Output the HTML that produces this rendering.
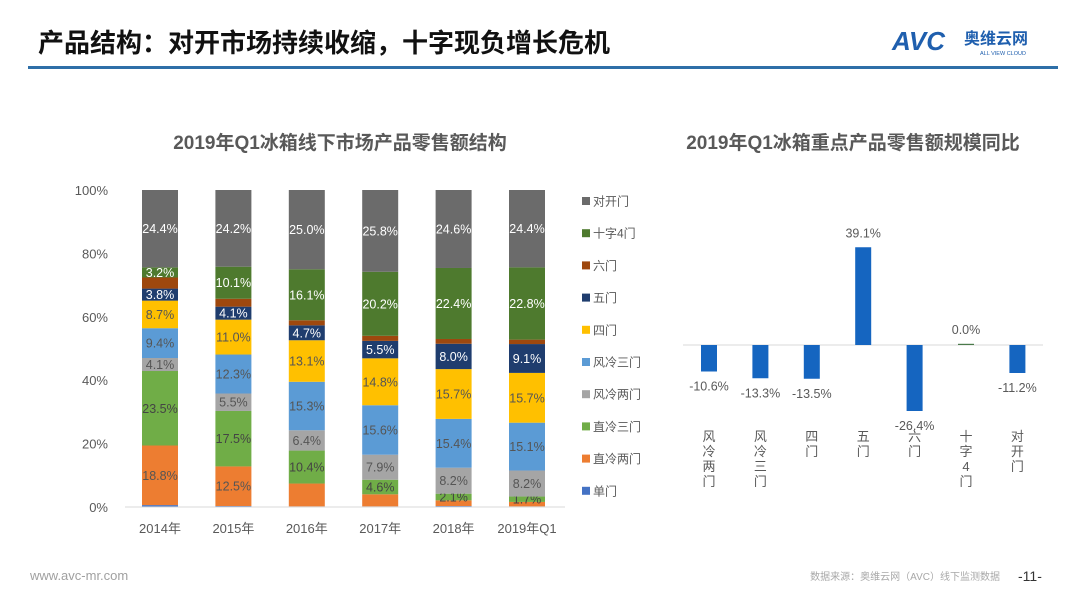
<!DOCTYPE html>
<html><head><meta charset="utf-8"><style>
html,body{margin:0;padding:0;background:#fff;}
body{width:1080px;height:608px;overflow:hidden;position:relative;font-family:"Liberation Sans","Noto Sans CJK SC",sans-serif;}
svg text{font-family:"Liberation Sans","Noto Sans CJK SC",sans-serif;}
</style></head><body>
<svg width="1080" height="608" viewBox="0 0 1080 608">
<text x="38" y="52" font-size="26" font-weight="bold" fill="#111">产品结构：对开市场持续收缩，十字现负增长危机</text>
<rect x="28" y="66" width="1030" height="3" fill="#2e6fa8"/>
<g>
<text x="892" y="50" font-size="26" font-weight="bold" fill="#1f5fae" font-style="italic">AVC</text>
<text x="964" y="44" font-size="16" font-weight="bold" fill="#1f5fae">奥维云网</text>
<text x="980" y="55" font-size="5.5" fill="#1f5fae">ALL VIEW CLOUD</text>
</g>
<text x="340" y="149" text-anchor="middle" font-size="19" font-weight="bold" fill="#595959">2019年Q1冰箱线下市场产品零售额结构</text>
<text x="853" y="149" text-anchor="middle" font-size="19" font-weight="bold" fill="#595959">2019年Q1冰箱重点产品零售额规模同比</text>
<g id="left"></g>
<g id="right"></g>
<text x="30" y="580" font-size="13" fill="#a0a0a0">www.avc-mr.com</text>
<text x="1000" y="580" text-anchor="end" font-size="10" fill="#a8a8a8">数据来源：奥维云网（AVC）线下监测数据</text>
<text x="1018" y="581" font-size="14" fill="#333">-11-</text>
</svg>
<script>
const NS='http://www.w3.org/2000/svg';
function mk(p,t,a){const e=document.createElementNS(NS,t);for(const k in a)e.setAttribute(k,a[k]);p.appendChild(e);return e;}
// left chart data
const years=['2014年','2015年','2016年','2017年','2018年','2019年Q1'];
const seriesNames=['单门','直冷两门','直冷三门','风冷两门','风冷三门','四门','五门','六门','十字4门','对开门'];
const seriesColors=['#4472c4','#ed7d31','#70ad47','#a5a5a5','#5b9bd5','#ffc000','#1f3d6e','#9e480e','#4e7a2e','#6b6b6b'];
const labelColors=['#fff','#555','#444','#555','#555','#555','#fff','#fff','#fff','#fff'];
const s_single=[0.6,0.3,0.2,0.2,0.3,0.2];
const s_zl2=[18.8,12.5,7.2,3.8,1.8,1.4];
const s_zl3=[23.5,17.5,10.4,4.6,2.1,1.7];
const s_fl2=[4.1,5.5,6.4,7.9,8.2,8.2];
const s_fl3=[9.4,12.3,15.3,15.6,15.4,15.1];
const s_4=[8.7,11.0,13.1,14.8,15.7,15.7];
const s_5=[3.8,4.1,4.7,5.5,8.0,9.1];
const s_6=[3.5,2.5,1.6,1.6,1.5,1.4];
const s_cross=[3.2,10.1,16.1,20.2,22.4,22.8];
const s_open=[24.4,24.2,25.0,25.8,24.6,24.4];
const showLabel=[false,[true,true,false,false,false,false],[true,true,true,true,true,true],true,true,true,true,false,true,true];
const yTicks=[0,20,40,60,80,100];
// right chart data
const cats=['风冷两门','风冷三门','四门','五门','六门','十字4门','对开门'];
const yoy=[-10.6,-13.3,-13.5,39.1,-26.4,0.0,-11.2];

const L=document.getElementById('left');
const y0=507,y1=190;const ys=v=>y0-(v/100)*(y0-y1);
const xc=i=>160+i*73.4;const bw=36;
yTicks.forEach(t=>{const e=mk(L,'text',{x:108,y:ys(t)+5,'text-anchor':'end','font-size':13,fill:'#595959'});e.textContent=t+'%';

});
const series=[s_single,s_zl2,s_zl3,s_fl2,s_fl3,s_4,s_5,s_6,s_cross,s_open];
years.forEach((yr,i)=>{let cum=0;
 series.forEach((s,k)=>{const v=s[i];const top=ys(cum+v),bot=ys(cum);
  const r=mk(L,'rect',{x:xc(i)-bw/2,y:top,width:bw,height:bot-top,fill:seriesColors[k]});
  
  
  const sl=showLabel[k];const show=sl===true||(Array.isArray(sl)&&sl[i]);
  if(show){const t=mk(L,'text',{x:xc(i),y:(top+bot)/2+4.5,'text-anchor':'middle','font-size':12.5,fill:labelColors[k]});t.textContent=v.toFixed(1)+'%';
   
   }
  cum+=v;});
 const xl=mk(L,'text',{x:xc(i),y:533,'text-anchor':'middle','font-size':13,fill:'#595959'});xl.textContent=yr;
 
 
});
const base=mk(L,'line',{x1:125,x2:565,y1:y0,y2:y0,stroke:'#d9d9d9','stroke-width':1});


for(let k=seriesNames.length-1,j=0;k>=0;k--,j++){const yy=201+j*32.2;
 const g=mk(L,'g',{});
 
 
 mk(g,'rect',{x:582,y:yy-4,width:8,height:8,fill:seriesColors[k]});
 const t=mk(g,'text',{x:593,y:yy+4.5,'font-size':12,fill:'#595959'});t.textContent=seriesNames[k];}

const R=document.getElementById('right');
const z=345,sc=2.5;const rx=i=>709+i*51.4;const rw=16;
const zl=mk(R,'line',{x1:683,x2:1043,y1:z,y2:z,stroke:'#d9d9d9','stroke-width':1});


yoy.forEach((v,i)=>{const h=Math.max(Math.abs(v)*sc,1.2);const y=v>=0?z-h:z;
 const r=mk(R,'rect',{x:rx(i)-rw/2,y:y,width:rw,height:h,fill:v===0?'#4a7a4a':'#1565c0'});
 
 
 const t=mk(R,'text',{x:rx(i),y:v>=0?y-10:y+h+19,'text-anchor':'middle','font-size':12.5,fill:'#595959'});t.textContent=v.toFixed(1)+'%';
 
 
 const chars=cats[i].split('');
 chars.forEach((c,j)=>{const ct=mk(R,'text',{x:rx(i),y:441+j*15,'text-anchor':'middle','font-size':13,fill:'#595959'});ct.textContent=c;
  
  });
});
</script>
</body></html>
